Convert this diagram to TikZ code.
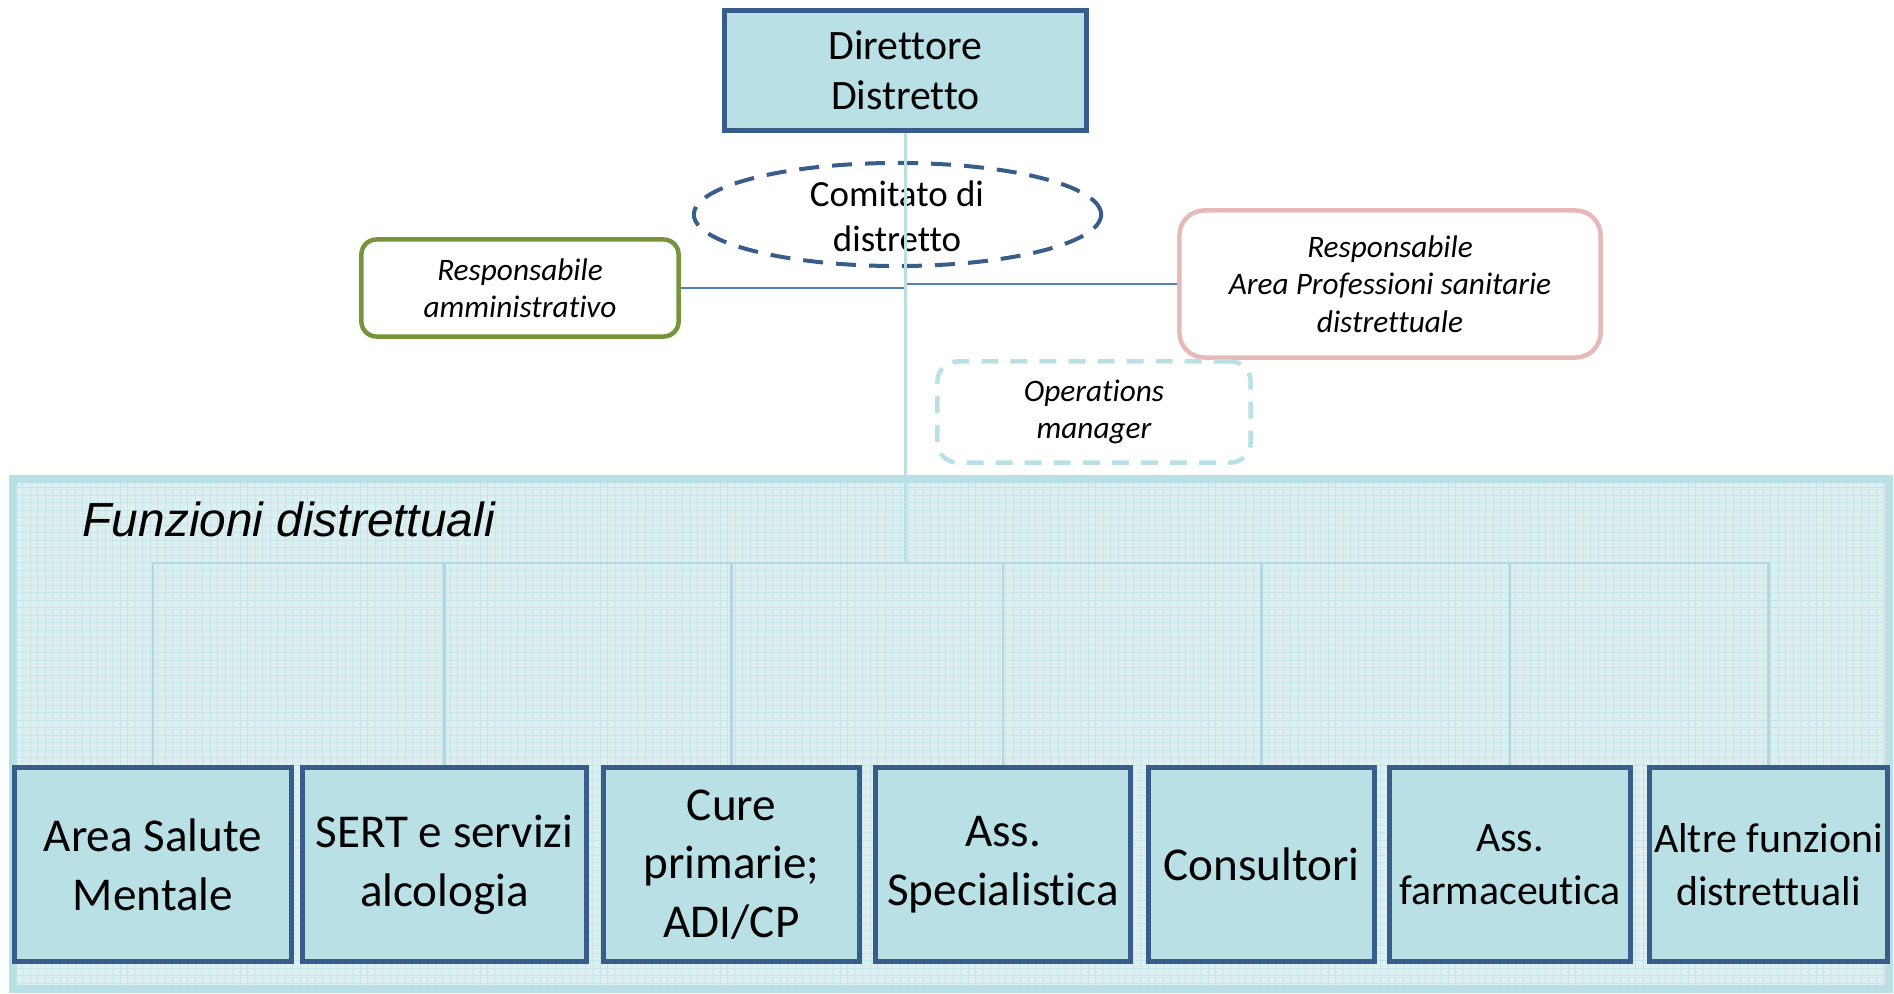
\documentclass[tikz,border=0pt]{standalone}
\usepackage{fontspec}
\setmainfont[Ligatures={NoCommon,NoContextual}, RawFeature={-liga;-clig;-calt;-dlig}]{Carlito}
\newfontfamily\arialfont{Liberation Sans}
\usepackage{tikz}
\usetikzlibrary{shapes.geometric, positioning}

\definecolor{dirblue}{RGB}{56,93,138}
\definecolor{aquafill}{RGB}{185,224,228}
\definecolor{panelfill}{RGB}{222,239,242}
\definecolor{panelgrid}{RGB}{198,229,233}
\definecolor{ammgreen}{RGB}{119,147,60}
\definecolor{propink}{RGB}{230,185,184}
\definecolor{linkblue}{RGB}{79,129,189}

\pgfdeclarelayer{panel}
\pgfdeclarelayer{links}
\pgfsetlayers{panel,links,main}

\tikzset{
  headbox/.style={draw=dirblue, fill=aquafill, line width=0.05cm, align=center, inner sep=0pt},
  funzbox/.style={headbox, minimum height=1.94cm, font=\fontsize{13.4}{16.7}\selectfont},
  smallfunz/.style={font=\fontsize{11.9}{15}\selectfont},
  respbox/.style={draw, fill=white, line width=0.045cm, align=center, inner sep=0pt,
    font=\itshape\fontsize{8.9}{10.6}\selectfont},
  comitato/.style={ellipse, draw=dirblue, line width=0.04cm, dash pattern=on 0.2cm off 0.13cm, inner sep=0pt},
  trunk/.style={draw=aquafill, line width=0.025cm},
  bus/.style={draw=aquafill!90!dirblue!60!aquafill, line width=0.022cm},
  link/.style={draw=linkblue, line width=0.015cm}
}

\begin{document}
\begin{tikzpicture}[x=0.01cm, y=-0.01cm]
  \useasboundingbox (0,0) rectangle (1894,994);

  % panel of the district functions
  \begin{pgfonlayer}{panel}
    \fill[panelfill] (13,479) rectangle (1889,989);
    \draw[panelgrid, line width=0.01cm, step=0.075cm] (13,989) grid (1889,479);
    \draw[aquafill, line width=0.08cm] (13,479) rectangle (1889,989);
  \end{pgfonlayer}
  \node[anchor=west, inner sep=0pt, font=\arialfont\itshape\fontsize{13.6}{16}\selectfont] (titolo) at (82,519) {Funzioni distrettuali};

  % top of the chart
  \node[headbox, minimum width=3.62cm, minimum height=1.2cm, font=\fontsize{11.9}{14.2}\selectfont] (dir) at (905.5,70.5) {Direttore\\Distretto};
  \node[comitato, minimum width=4.07cm, minimum height=1.03cm] (com) at (897.5,214.5) {};
  \node[align=center, inner sep=0pt, font=\fontsize{10.5}{12.8}\selectfont] (comtxt) at (897,216) {Comitato di\\distretto};

  \node[respbox, draw=ammgreen, rounded corners=0.15cm, minimum width=3.17cm, minimum height=0.97cm] (amm) at (520,288) {Responsabile\\amministrativo};
  \node[respbox, draw=propink, rounded corners=0.25cm, minimum width=4.21cm, minimum height=1.47cm] (pro) at (1390,284) {Responsabile\\Area Professioni sanitarie\\distrettuale};
  \node[respbox, draw=aquafill, dash pattern=on 0.17cm off 0.12cm, rounded corners=0.2cm, minimum width=3.13cm, minimum height=1.01cm] (ops) at (1094,412) {Operations\\manager};

  % district functions
  \node[funzbox, minimum width=2.77cm] (f1) at (153,864.5) {Area Salute\\Mentale};
  \node[funzbox, minimum width=2.84cm] (f2) at (444.5,864.5) {SERT e servizi\\alcologia};
  \node[funzbox, minimum width=2.56cm] (f3) at (731.5,864.5) {Cure\\primarie;\\ADI/CP};
  \node[funzbox, minimum width=2.55cm] (f4) at (1003,864.5) {Ass.\\Specialistica};
  \node[funzbox, minimum width=2.26cm] (f5) at (1261.5,864.5) {Consultori};
  \node[funzbox, smallfunz, minimum width=2.41cm] (f6) at (1510,864.5) {Ass.\\farmaceutica};
  \node[funzbox, smallfunz, minimum width=2.38cm] (f7) at (1768.5,864.5) {Altre funzioni\\distrettuali};

  % connectors
  \coordinate (hub) at (dir.south |- 0,563);
  \begin{pgfonlayer}{links}
    \foreach \i in {1,...,7}
      \draw[bus] (hub) -| (f\i.north);
  \end{pgfonlayer}
  \draw[link] (amm.east) -- (amm.east -| dir.south);
  \draw[link] (pro.west) -- (pro.west -| dir.south);
  \draw[trunk] (dir.south) -- (hub);
\end{tikzpicture}
\end{document}
